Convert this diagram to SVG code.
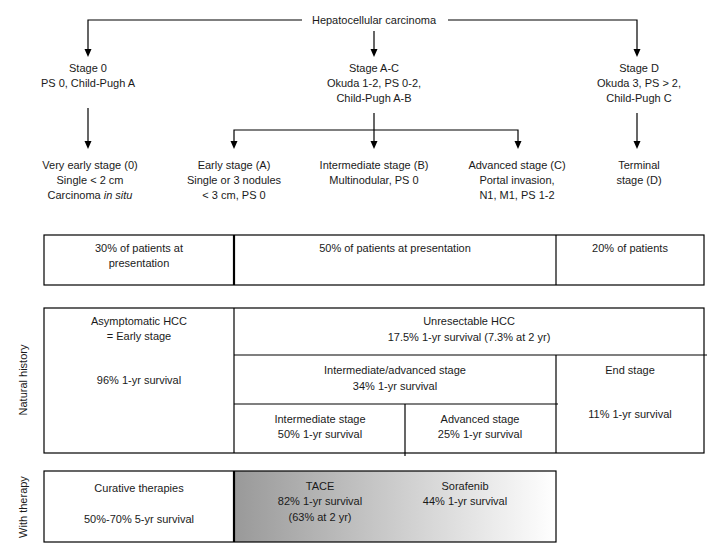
<svg xmlns="http://www.w3.org/2000/svg" width="712" height="547" viewBox="0 0 712 547">
<style>
text{font-family:"Liberation Sans",Arial,sans-serif;font-size:11px;fill:#1a1a1a;text-anchor:middle}
.ln{stroke:#000;stroke-width:1.2;fill:none}
.bx{stroke:#000;stroke-width:1.2;fill:none}
.thick{stroke:#000;stroke-width:2.2}
</style>
<defs>
<linearGradient id="grad" x1="0" y1="0" x2="1" y2="0">
<stop offset="0" stop-color="#999"/>
<stop offset="1" stop-color="#fff"/>
</linearGradient>
</defs>
<rect width="712" height="547" fill="#fff"/>

<g id="connectors">
<polyline class="ln" points="302,20 88,20 88,49"/>
<polyline class="ln" points="448,20 637,20 637,49"/>
<line class="ln" x1="374" y1="31" x2="374" y2="49"/>
<path d="M84.5,49 L91.5,49 L88,57 Z M370.5,49 L377.5,49 L374,57 Z M633.5,49 L640.5,49 L637,57 Z"/>
<line class="ln" x1="88" y1="108" x2="88" y2="141"/>
<line class="ln" x1="374" y1="113" x2="374" y2="141"/>
<line class="ln" x1="637" y1="113" x2="637" y2="141"/>
<polyline class="ln" points="234,141 234,130 518,130 518,141"/>
<path d="M84.5,141 L91.5,141 L88,149 Z M230.5,141 L237.5,141 L234,149 Z M370.5,141 L377.5,141 L374,149 Z M514.5,141 L521.5,141 L518,149 Z M633.5,141 L640.5,141 L637,149 Z"/>
</g>

<g id="hcc"><text x="374" y="24">Hepatocellular carcinoma</text></g>
<g id="stage0"><text x="88" y="72">Stage 0</text><text x="88" y="87">PS 0, Child-Pugh A</text></g>
<g id="stageAC"><text x="374" y="72">Stage A-C</text><text x="374" y="87">Okuda 1-2, PS 0-2,</text><text x="374" y="102">Child-Pugh A-B</text></g>
<g id="stageD"><text x="639" y="72">Stage D</text><text x="639" y="87">Okuda 3, PS &gt; 2,</text><text x="639" y="102">Child-Pugh C</text></g>

<g id="veryearly"><text x="90" y="169">Very early stage (0)</text><text x="90" y="184">Single &lt; 2 cm</text><text x="90" y="199">Carcinoma <tspan font-style="italic">in situ</tspan></text></g>
<g id="early"><text x="234" y="169">Early stage (A)</text><text x="234" y="184">Single or 3 nodules</text><text x="234" y="199">&lt; 3 cm, PS 0</text></g>
<g id="intermediate"><text x="374" y="169">Intermediate stage (B)</text><text x="374" y="184">Multinodular, PS 0</text></g>
<g id="advanced"><text x="517" y="169">Advanced stage (C)</text><text x="517" y="184">Portal invasion,</text><text x="517" y="199">N1, M1, PS 1-2</text></g>
<g id="terminal"><text x="639" y="169">Terminal</text><text x="639" y="184">stage (D)</text></g>

<g id="presentation">
<rect class="bx" x="44" y="235" width="660" height="50"/>
<line class="thick" x1="234" y1="235" x2="234" y2="285"/>
<line class="ln" x1="556" y1="235" x2="556" y2="285"/>
<text x="139" y="252">30% of patients at</text><text x="139" y="267">presentation</text>
<text x="395" y="252">50% of patients at presentation</text>
<text x="630" y="252">20% of patients</text>
</g>

<g id="natural">
<text transform="translate(27,380) rotate(-90)">Natural history</text>
<rect class="bx" x="44" y="308" width="660" height="145"/>
<line class="ln" x1="234" y1="308" x2="234" y2="453"/>
<line class="ln" x1="234" y1="355" x2="707" y2="355"/>
<line class="ln" x1="556" y1="355" x2="556" y2="453"/>
<line class="ln" x1="234" y1="404" x2="558" y2="404"/>
<line class="ln" x1="405" y1="404" x2="405" y2="456"/>
<text x="139" y="325">Asymptomatic HCC</text><text x="139" y="340">= Early stage</text>
<text x="139" y="384">96% 1-yr survival</text>
<text x="469" y="325">Unresectable HCC</text><text x="469" y="341">17.5% 1-yr survival (7.3% at 2 yr)</text>
<text x="395" y="374">Intermediate/advanced stage</text><text x="395" y="390">34% 1-yr survival</text>
<text x="630" y="374">End stage</text><text x="630" y="418">11% 1-yr survival</text>
<text x="320" y="423">Intermediate stage</text><text x="320" y="438">50% 1-yr survival</text>
<text x="480" y="423">Advanced stage</text><text x="480" y="438">25% 1-yr survival</text>
</g>

<g id="therapy">
<text transform="translate(27,507) rotate(-90)">With therapy</text>
<rect x="234" y="471" width="322" height="71" fill="url(#grad)"/>
<rect class="bx" x="44" y="471" width="512" height="71"/>
<line class="thick" x1="234" y1="471" x2="234" y2="542"/>
<text x="139" y="492">Curative therapies</text><text x="139" y="523">50%-70% 5-yr survival</text>
<text x="320" y="490">TACE</text><text x="320" y="505">82% 1-yr survival</text><text x="320" y="521">(63% at 2 yr)</text>
<text x="465" y="490">Sorafenib</text><text x="465" y="505">44% 1-yr survival</text>
</g>
</svg>
